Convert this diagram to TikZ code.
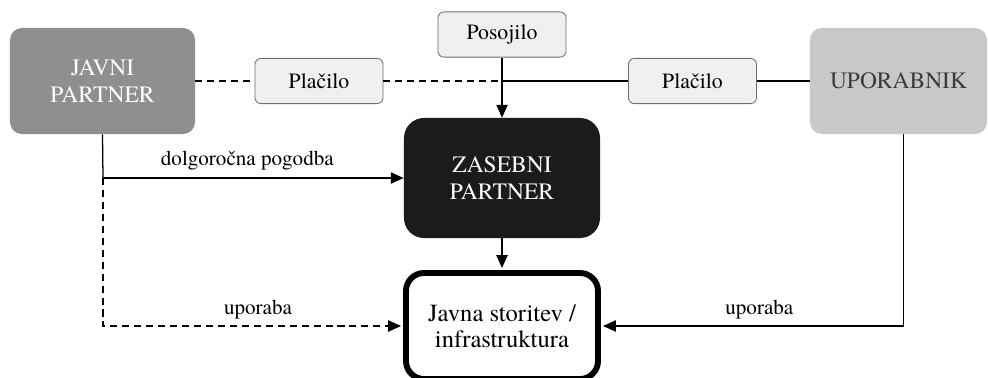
\documentclass[tikz,border=0pt]{standalone}
\usepackage{fontspec}
\setmainfont{texgyretermes}[Extension=.otf,UprightFont=*-regular,BoldFont=*-bold,ItalicFont=*-italic,BoldItalicFont=*-bolditalic]
\usepackage{tikz}
\usetikzlibrary{arrows.meta,shapes}
\definecolor{javnigray}{HTML}{8F8F8F}
\definecolor{upogray}{HTML}{C8C8C8}
\definecolor{upotext}{HTML}{3C3C3C}
\definecolor{zasblack}{HTML}{1C1A1B}
\definecolor{smallfill}{HTML}{F0F0F0}
\definecolor{smalldraw}{HTML}{6E6E6E}
\tikzstyle{big box}=[rectangle,rounded corners=0.3cm,minimum height=2.65cm,align=center,font=\fontsize{16.7}{19}\selectfont]
\tikzstyle{javni box}=[big box,fill=javnigray,text=white,minimum width=4.625cm]
\tikzstyle{upo box}=[big box,fill=upogray,text=upotext,minimum width=4.425cm]
\tikzstyle{zas box}=[big box,fill=zasblack,text=white,minimum width=4.9cm,minimum height=3cm,rounded corners=0.5cm]
\tikzstyle{service box}=[rectangle,draw=black,line width=4.2pt,fill=white,rounded corners=0.45cm,minimum width=4.8cm,minimum height=2.65cm,align=center,font=\fontsize{17.5}{18.5}\selectfont]
\tikzstyle{small box}=[rectangle,draw=smalldraw,line width=0.6pt,fill=smallfill,rounded corners=0.15cm,minimum width=3.2cm,minimum height=1.13cm,font=\fontsize{15.5}{18}\selectfont]
\tikzstyle{edge label}=[font=\fontsize{15}{18}\selectfont]
\tikzstyle{edge} = [draw,line width=0.9pt,-]
\tikzstyle{dashed edge} = [draw,line width=0.9pt,dash pattern=on 5pt off 3.5pt,-]
\tikzstyle{arrow} = [-{Triangle[length=0.32cm,width=0.28cm]}]

\begin{document}
\begin{tikzpicture}[x=0.025cm,y=-0.025cm]
        \useasboundingbox (0,0) rectangle (988,377);
        \begin{scope}
        \clip (0,0) rectangle (988,377);
        \node[service box] (javna) at (502,326) {Javna storitev /\\ infrastruktura};
        \end{scope}
        \node[javni box] (javni) at (102.5,81) {JAVNI\\ PARTNER};
        \node[upo box] (upo) at (898.5,81) {UPORABNIK};
        \node[zas box] (zas) at (502,178) {ZASEBNI\\ PARTNER};
        \node[small box] (posojilo) at (502,34.5) {Posojilo};
        \node[small box] (placilo1) at (319,81) {Plačilo};
        \node[small box] (placilo2) at (692.5,81) {Plačilo};
        \coordinate (meet) at (502,81);
        \coordinate (split) at (103,178);
        % payment line
        \draw[dashed edge] (javni) to (placilo1);
        \draw[dashed edge] (placilo1) to (meet);
        \draw[edge] (meet) to (placilo2);
        \draw[edge] (placilo2) to (upo);
        \draw[edge,arrow] (posojilo) to (zas);
        % contract and use
        \draw[edge] (javni.south) to (split);
        \draw[edge,arrow] (split) to node[edge label,above=2pt,pos=0.48] {dolgoročna pogodba} (zas.west);
        \draw[dashed edge,arrow] (split) |- node[edge label,above=1.5pt,pos=0.76] {uporaba} ([xshift=-0.05cm]javna.west);
        \draw[edge,arrow] (zas) to ([yshift=0.05cm]javna.north);
        \draw[edge,arrow] ([xshift=0.13cm]upo.south) |- node[edge label,above=1.5pt,pos=0.74] {uporaba} ([xshift=0.05cm]javna.east);
\end{tikzpicture}
\end{document}
